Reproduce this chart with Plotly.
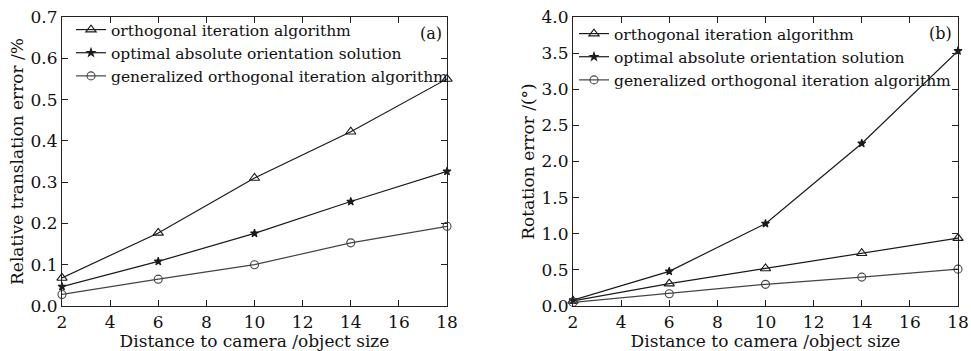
import plotly.graph_objects as go

distance = [2, 6, 10, 14, 18]

names = ["orthogonal iteration algorithm",
         "optimal absolute orientation solution",
         "generalized orthogonal iteration algorithm"]

trans_orthogonal = [0.068, 0.177, 0.310, 0.422, 0.550]
trans_optimal = [0.047, 0.108, 0.176, 0.253, 0.326]
trans_generalized = [0.028, 0.065, 0.100, 0.153, 0.193]

rot_orthogonal = [0.07, 0.31, 0.52, 0.73, 0.94]
rot_optimal = [0.08, 0.48, 1.14, 2.25, 3.53]
rot_generalized = [0.05, 0.17, 0.30, 0.40, 0.51]

symbols = ["triangle-up-open", "star", "circle-open"]
colors = ["#1a1a1a", "#1a1a1a", "#444444"]
msizes = [9, 6, 8]

FONT = "DejaVu Serif"

fig = go.Figure()

for i, ys in enumerate([trans_orthogonal, trans_optimal, trans_generalized]):
    fig.add_trace(go.Scatter(
        x=distance, y=ys, name=names[i], mode="lines+markers", cliponaxis=False,
        line=dict(color=colors[i], width=1.2),
        marker=dict(symbol=symbols[i], size=msizes[i], color=colors[i],
                    line=dict(color=colors[i], width=1.1)),
        xaxis="x", yaxis="y", legend="legend"))

for i, ys in enumerate([rot_orthogonal, rot_optimal, rot_generalized]):
    fig.add_trace(go.Scatter(
        x=distance, y=ys, name=names[i], mode="lines+markers", cliponaxis=False,
        line=dict(color=colors[i], width=1.2),
        marker=dict(symbol=symbols[i], size=msizes[i], color=colors[i],
                    line=dict(color=colors[i], width=1.1)),
        xaxis="x2", yaxis="y2", legend="legend2"))

W, H = 971, 351
def px(x): return x / W
def py(y): return 1 - y / H

axis_common = dict(showline=True, linecolor="#222", linewidth=1.2, mirror="ticks",
                   ticks="inside", ticklen=6, tickcolor="#222", tickwidth=1,
                   showgrid=False, zeroline=False, automargin=False,
                   tickfont=dict(family=FONT, size=17, color="#111"),
                   title_font=dict(family=FONT, size=17, color="#111"))

fig.update_layout(
    width=W, height=H, margin=dict(l=0, r=0, t=0, b=0),
    paper_bgcolor="white", plot_bgcolor="white",
    font=dict(family=FONT, color="#111"),
    xaxis=dict(domain=[px(62), px(447)], range=[2, 18], dtick=2, anchor="y",
               title=dict(text="Distance to camera /object size", standoff=0), **axis_common),
    yaxis=dict(domain=[py(306), py(17)], range=[0, 0.7], dtick=0.1, tickformat=".1f",
               anchor="x", title=dict(text="Relative translation error /%", standoff=2),
               **axis_common),
    xaxis2=dict(domain=[px(573), px(958)], range=[2, 18], dtick=2, anchor="y2",
                title=dict(text="Distance to camera /object size", standoff=0), **axis_common),
    yaxis2=dict(domain=[py(306), py(17)], range=[0, 4.0], dtick=0.5, tickformat=".1f",
                anchor="x2", title=dict(text="Rotation error /(°)", standoff=2),
                **axis_common),
    legend=dict(x=px(71), y=py(13), xanchor="left", yanchor="top",
                bgcolor="rgba(0,0,0,0)", font=dict(family=FONT, size=15.5, color="#111"),
                itemwidth=30, tracegroupgap=0),
    legend2=dict(x=px(574), y=py(17), xanchor="left", yanchor="top",
                 bgcolor="rgba(0,0,0,0)", font=dict(family=FONT, size=15.5, color="#111"),
                 itemwidth=30, tracegroupgap=0),
    annotations=[
        dict(text="(a)", x=px(444), y=py(33), xref="paper", yref="paper",
             xanchor="right", yanchor="middle", showarrow=False,
             font=dict(family=FONT, size=16, color="#111")),
        dict(text="(b)", x=px(954), y=py(33), xref="paper", yref="paper",
             xanchor="right", yanchor="middle", showarrow=False,
             font=dict(family=FONT, size=16, color="#111")),
    ],
)

fig.write_html("out.html", config={"displayModeBar": False},
               post_script="document.body.style.margin='0';")
